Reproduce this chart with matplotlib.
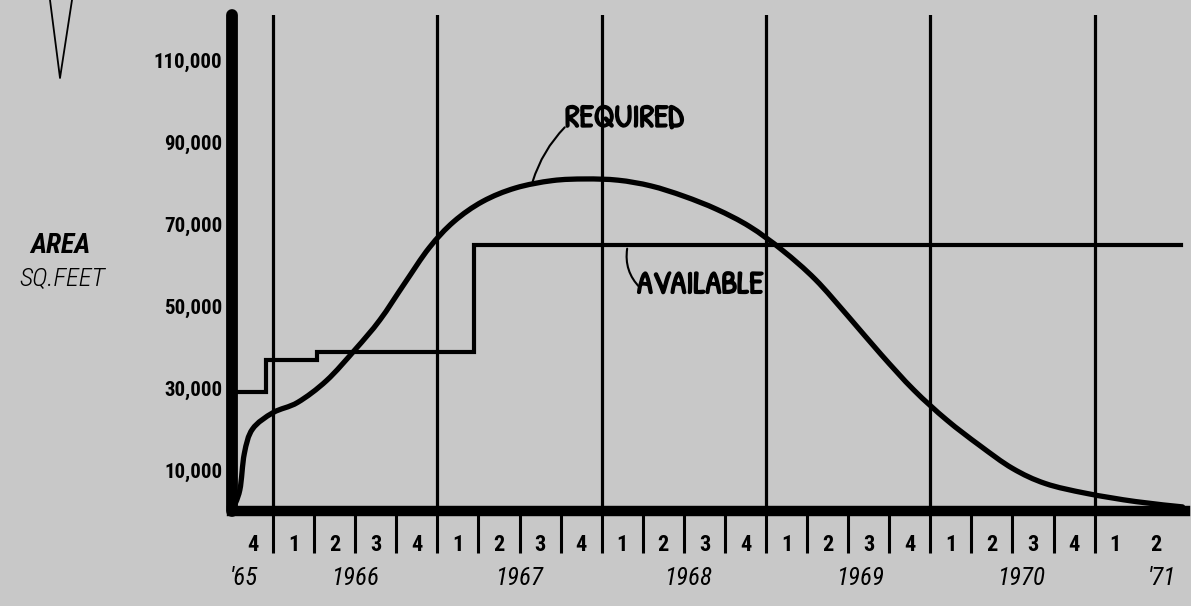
import numpy as np
import matplotlib
matplotlib.use("Agg")
import matplotlib.pyplot as plt
import matplotlib.patheffects as pe
from matplotlib.lines import Line2D
from matplotlib.path import Path
from matplotlib.patches import PathPatch

# x positions are measured in quarters from the start of Q4 1965
quarter_labels = ["4", "1", "2", "3", "4", "1", "2", "3", "4", "1", "2", "3",
                  "4", "1", "2", "3", "4", "1", "2", "3", "4", "1", "2"]
year_labels = ["'65", "1966", "1967", "1968", "1969", "1970", "'71"]
year_starts = [0, 1, 5, 9, 13, 17, 21]
year_ends = [1, 5, 9, 13, 17, 21, 23]

area_ticks = [10000, 30000, 50000, 70000, 90000, 110000]

# floor area required (sq ft)
req_q = [0.0, 0.19, 0.3, 0.5, 1.0, 1.6, 2.3, 3.0, 3.6, 4.2, 4.8, 5.4, 6.1,
         6.9, 7.8, 8.6, 9.4, 10.2, 11.0, 11.8, 12.6, 13.4, 14.2, 15.0, 15.8,
         16.6, 17.4, 18.2, 19.0, 19.8, 20.8, 22.0, 23.14]
req_area = [0, 5100, 14000, 20000, 24000, 26500, 31800, 39400, 46600, 55500,
            64200, 70600, 75500, 78800, 80600, 81000, 80700, 79300, 76800,
            73600, 69400, 63600, 56500, 47500, 38200, 29500, 22200, 16000,
            10400, 6700, 4300, 2300, 1000]

# floor area available (sq ft), stepped
avail_q = [0.0, 0.83, 2.07, 5.89, 23.1]
avail_area = [29000, 36800, 38800, 65000, 65000]

W, H = 1191, 606
bg = "#c8c8c8"
cond = ["Roboto Condensed", "DejaVu Sans"]
hand = ["Patrick Hand", "Roboto Condensed", "DejaVu Sans"]


def smooth_path(xs, ys):
    """Cubic Bezier path through the given points (Catmull-Rom tangents)."""
    p = np.column_stack([xs, ys]).astype(float)
    verts = [p[0]]
    codes = [Path.MOVETO]
    n = len(p)
    for i in range(n - 1):
        p0 = p[i - 1] if i > 0 else p[i]
        p3 = p[i + 2] if i + 2 < n else p[i + 1]
        c1 = p[i] + (p[i + 1] - p0) / 6.0
        c2 = p[i + 1] - (p3 - p[i]) / 6.0
        verts += [c1, c2, p[i + 1]]
        codes += [Path.CURVE4] * 3
    return Path(np.array(verts), codes)


fig = plt.figure(figsize=(W / 100, H / 100), dpi=100)
fig.patch.set_facecolor(bg)
ax = fig.add_axes([232 / W, (H - 511) / H, (1185 - 232) / W, 496 / H])
ax.set_facecolor(bg)
ax.set_xlim(0, 23.2)
ax.set_ylim(0, 121000)

for s in ("top", "right"):
    ax.spines[s].set_visible(False)
ax.spines["left"].set_linewidth(8.5)
ax.spines["bottom"].set_linewidth(7.5)
ax.spines["left"].set_capstyle("round")
ax.spines["bottom"].set_capstyle("projecting")
ax.spines["left"].set_zorder(5)
ax.spines["bottom"].set_zorder(5)

# year divisions
for q in year_starts[1:]:
    ax.axvline(q, color="black", lw=2.3, zorder=1)

# quarter tick marks below the axis
ax.set_xticks(np.arange(1, 22))
ax.tick_params(axis="x", direction="out", length=30, width=2.2,
               color="black", labelbottom=False)

ax.set_yticks(area_ticks)
ax.set_yticklabels([f"{v:,}" for v in area_ticks])
ax.tick_params(axis="y", length=0, pad=7)
for t in ax.get_yticklabels():
    t.set_family(cond)
    t.set_fontweight("bold")
    t.set_fontsize(15)

# quarter and year labels
for i, lab in enumerate(quarter_labels):
    ax.annotate(lab, xy=(i + 0.5, 0), xycoords=("data", "axes fraction"),
                xytext=(0, -24.5), textcoords="offset points",
                ha="center", va="center", fontsize=16, fontweight="bold",
                family=cond)
year_nudge = [-0.2, 0.0, 0.0, 0.1, 0.3, 0.2, 0.65]
for lab, a, b, d in zip(year_labels, year_starts, year_ends, year_nudge):
    ax.annotate(lab, xy=((a + b) / 2 + d, 0), xycoords=("data", "axes fraction"),
                xytext=(0, -48), textcoords="offset points",
                ha="center", va="center", fontsize=18, fontstyle="italic",
                family=cond)

# curves
ax.plot(avail_q, avail_area, drawstyle="steps-post", color="black", lw=3.0,
        solid_joinstyle="miter", zorder=3, clip_on=False)
ax.add_patch(PathPatch(smooth_path(req_q, req_area), facecolor="none",
                       edgecolor="black", lw=3.8, capstyle="round",
                       joinstyle="round", zorder=4, clip_on=False))

# curve labels with leader lines
ink = [pe.withStroke(linewidth=1.2, foreground="black")]
ax.text(9.55, 95300, "REQUIRED", ha="center", va="center", fontsize=23,
        family=hand, path_effects=ink)
ax.annotate("", xy=(7.32, 80400), xytext=(8.1, 93600),
            arrowprops=dict(arrowstyle="-", lw=1.5, color="black",
                            connectionstyle="arc3,rad=0.12",
                            shrinkA=0, shrinkB=0))
ax.text(11.4, 54700, "AVAILABLE", ha="center", va="center", fontsize=23,
        family=hand, path_effects=ink)
ax.annotate("", xy=(9.62, 64000), xytext=(9.93, 54500),
            arrowprops=dict(arrowstyle="-", lw=1.5, color="black",
                            connectionstyle="arc3,rad=-0.25",
                            shrinkA=0, shrinkB=0))

# axis title
fig.text(60 / W, 1 - 245 / H, "AREA", ha="center", va="center", fontsize=20,
         fontstyle="italic", fontweight="bold", family=cond)
fig.text(62 / W, 1 - 279 / H, "SQ.FEET", ha="center", va="center",
         fontsize=19, fontstyle="italic", fontweight="light", family=cond)

# pointer mark in the upper left
fig.add_artist(Line2D([50 / W, 60 / W, 72 / W], [1.0, 1 - 78 / H, 1.0],
                      transform=fig.transFigure, color="black", lw=1.3))

fig.savefig("out.png", dpi=100, facecolor=bg)
